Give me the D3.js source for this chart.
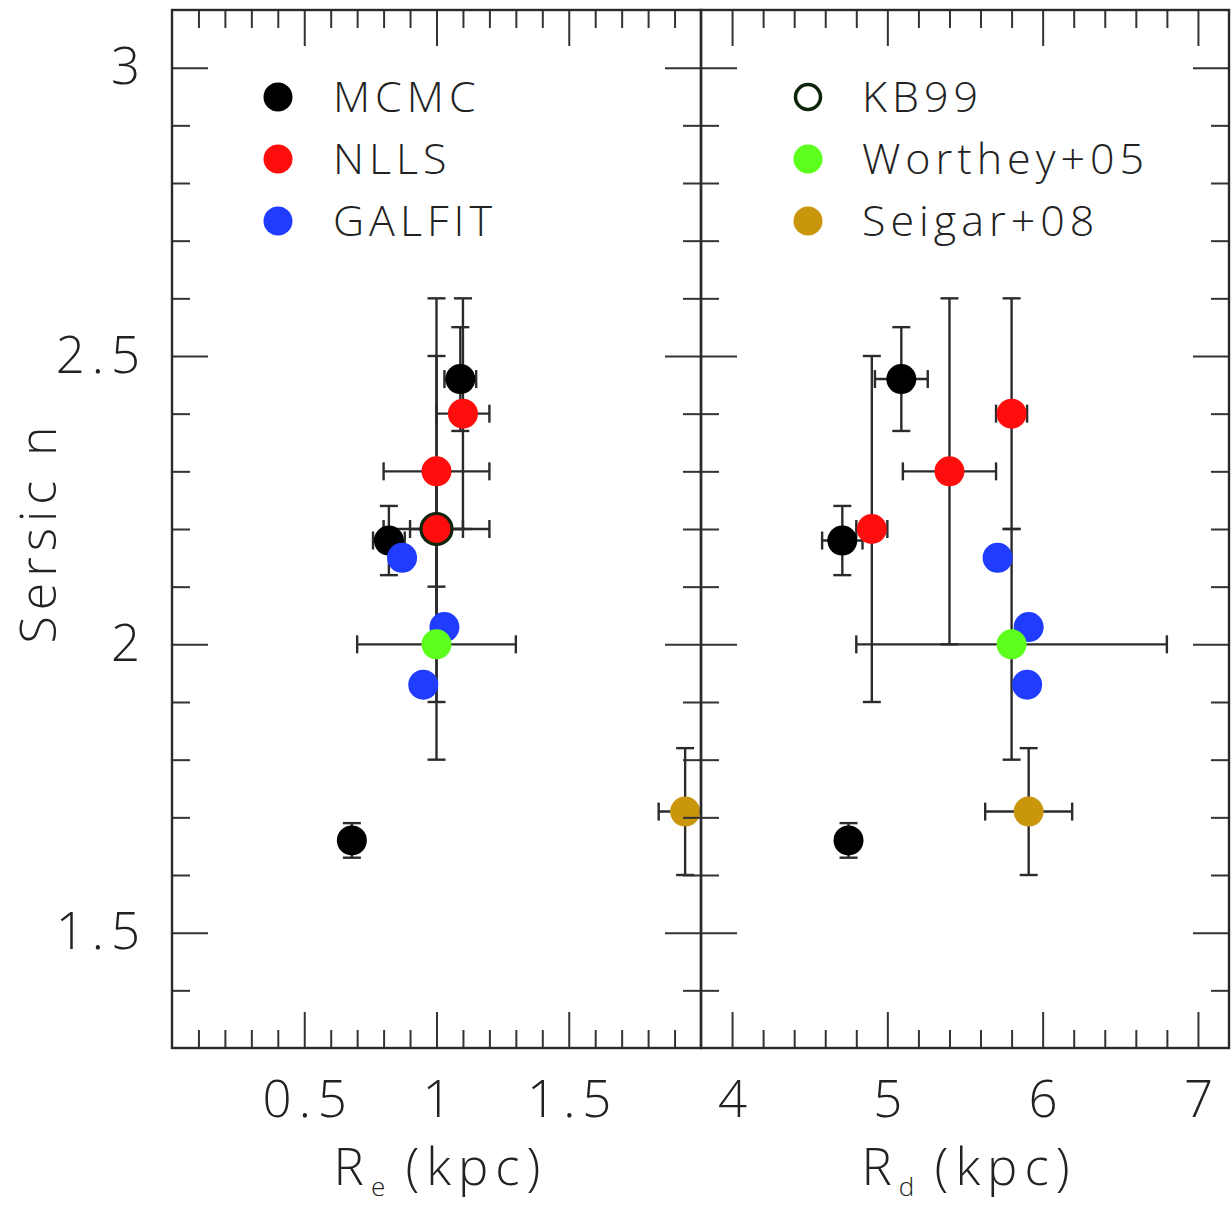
<!DOCTYPE html>
<html>
<head>
<meta charset="utf-8">
<script src="https://cdn.jsdelivr.net/npm/d3@7"></script>
<style>
  html, body { margin: 0; padding: 0; background: #fff; }
  svg { display: block; }
  text { font-family: "Open Sans", "DejaVu Sans", sans-serif; font-weight: 300; fill: #222; }
</style>
</head>
<body>
<svg id="chart" width="1231" height="1207"></svg>
<script>
// ---------------- DATA ----------------
const seriesNames = ["MCMC", "NLLS", "GALFIT", "KB99", "Worthey+05", "Seigar+08"];

const mcmcRe    = [1.09, 0.82, 0.68];
const mcmcReErr = [0.06, 0.06, 0.00];
const mcmcRd    = [5.09, 4.71, 4.75];
const mcmcRdErr = [0.17, 0.13, 0.00];
const mcmcN     = [2.46, 2.18, 1.66];
const mcmcNErr  = [0.09, 0.06, 0.03];

const nllsRe    = [1.10, 1.00, 1.00];
const nllsReErr = [0.10, 0.20, 0.10];
const nllsRd    = [5.80, 5.40, 4.90];
const nllsRdErr = [0.10, 0.30, 0.10];
const nllsN     = [2.40, 2.30, 2.20];
const nllsNErr  = [0.20, 0.30, 0.30];

const galfitRe  = [0.87, 1.03, 0.95];
const galfitRd  = [5.71, 5.91, 5.90];
const galfitN   = [2.15, 2.03, 1.93];

const kb99Re    = [1.00];
const kb99ReErr = [0.20];
const kb99N     = [2.20];
const kb99NErr  = [0.10];

const wortheyRe    = [1.00];
const wortheyReErr = [0.30];
const wortheyRd    = [5.80];
const wortheyRdErr = [1.00];
const wortheyN     = [2.00];
const wortheyNErr  = [0.20];

const seigarRe    = [1.94];
const seigarReErr = [0.10];
const seigarRd    = [5.91];
const seigarRdErr = [0.28];
const seigarN     = [1.71];
const seigarNErr  = [0.11];

const xTicksLeft  = [0.5, 1, 1.5];
const xTicksRight = [4, 5, 6, 7];
const yTicks      = [1.5, 2, 2.5, 3];

// ---------------- LAYOUT ----------------
const svg = d3.select("#chart");
const yTop = 10, yBot = 1048;
const L = {x0: 172, x1: 701};
const R = {x0: 701, x1: 1229};

const xL = d3.scaleLinear().domain([0, 2]).range([L.x0, L.x1]);
const xR = d3.scaleLinear().domain([3.8, 7.2]).range([R.x0, R.x1]);
const y  = d3.scaleLinear().domain([1.3, 3.1]).range([yBot, yTop]);

const colors = {
  "MCMC": "#000000", "NLLS": "#ff0d0d", "GALFIT": "#1f3cff",
  "KB99": "#0d240d", "Worthey+05": "#5dff1c", "Seigar+08": "#c9960c"
};

function zip(xs, xe, ns, ne) {
  return xs.map((v, i) => ({x: v, xe: xe ? xe[i] : 0, n: ns[i], ne: ne ? ne[i] : 0}));
}

const leftSeries = [
  {name: "MCMC", pts: zip(mcmcRe, mcmcReErr, mcmcN, mcmcNErr)},
  {name: "NLLS", pts: zip(nllsRe, nllsReErr, nllsN, nllsNErr)},
  {name: "GALFIT", pts: zip(galfitRe, null, galfitN, null)},
  {name: "Worthey+05", pts: zip(wortheyRe, wortheyReErr, wortheyN, wortheyNErr)},
  {name: "Seigar+08", pts: zip(seigarRe, seigarReErr, seigarN, seigarNErr)},
  {name: "KB99", pts: zip(kb99Re, kb99ReErr, kb99N, kb99NErr), open: true}
];
const rightSeries = [
  {name: "MCMC", pts: zip(mcmcRd, mcmcRdErr, mcmcN, mcmcNErr)},
  {name: "NLLS", pts: zip(nllsRd, nllsRdErr, nllsN, nllsNErr)},
  {name: "GALFIT", pts: zip(galfitRd, null, galfitN, null)},
  {name: "Worthey+05", pts: zip(wortheyRd, wortheyRdErr, wortheyN, wortheyNErr)},
  {name: "Seigar+08", pts: zip(seigarRd, seigarRdErr, seigarN, seigarNErr)}
];

const defs = svg.append("defs");
defs.append("clipPath").attr("id", "clipL").append("rect")
  .attr("x", L.x0).attr("y", yTop).attr("width", L.x1 - L.x0).attr("height", yBot - yTop);
defs.append("clipPath").attr("id", "clipR").append("rect")
  .attr("x", R.x0).attr("y", yTop).attr("width", R.x1 - R.x0).attr("height", yBot - yTop);

const CAP = 9, RAD = 15, EBW = 2.4, EBC = "#2b2b2b";

function drawPanel(series, x, clipId) {
  const g = svg.append("g").attr("clip-path", `url(#${clipId})`);
  series.forEach(s => {
    s.pts.forEach(p => {
      const cx = x(p.x), cy = y(p.n);
      if (p.xe > 0) {
        const xa = x(p.x - p.xe), xb = x(p.x + p.xe);
        g.append("line").attr("x1", xa).attr("x2", xb).attr("y1", cy).attr("y2", cy)
          .attr("stroke", EBC).attr("stroke-width", EBW);
        [xa, xb].forEach(xx => g.append("line").attr("x1", xx).attr("x2", xx)
          .attr("y1", cy - CAP).attr("y2", cy + CAP).attr("stroke", EBC).attr("stroke-width", EBW));
      }
      if (p.ne > 0) {
        const ya = y(p.n - p.ne), yb = y(p.n + p.ne);
        g.append("line").attr("x1", cx).attr("x2", cx).attr("y1", ya).attr("y2", yb)
          .attr("stroke", EBC).attr("stroke-width", EBW);
        [ya, yb].forEach(yy => g.append("line").attr("y1", yy).attr("y2", yy)
          .attr("x1", cx - CAP).attr("x2", cx + CAP).attr("stroke", EBC).attr("stroke-width", EBW));
      }
    });
  });
  series.forEach(s => {
    g.selectAll(null).data(s.pts).enter().append("circle")
      .attr("cx", d => x(d.x)).attr("cy", d => y(d.n)).attr("r", s.open ? 15.5 : RAD)
      .attr("fill", s.open ? "none" : colors[s.name])
      .attr("stroke", s.open ? colors[s.name] : "none")
      .attr("stroke-width", s.open ? 3.2 : 0);
  });
}

drawPanel(leftSeries, xL, "clipL");
drawPanel(rightSeries, xR, "clipR");

// ---------------- AXES ----------------
const MAJ = 36, MIN = 18, TW = 2, TC = "#333";
const TICK_FS = 51, TICK_LS = 7;
function styleAxis(g) {
  g.select(".domain").remove();
  g.selectAll(".tick line").attr("stroke", TC).attr("stroke-width", TW);
  g.selectAll(".tick text").style("font-family", "\"Open Sans\", \"DejaVu Sans\", sans-serif")
    .style("font-weight", 300).style("font-size", TICK_FS + "px")
    .style("letter-spacing", TICK_LS + "px").attr("fill", "#222");
}
function minorVals(lo, hi, step, majors) {
  const out = [];
  for (let k = Math.round(lo / step); k * step <= hi + 1e-9; k++) {
    const v = +(k * step).toFixed(6);
    if (v <= lo + 1e-9 || v >= hi - 1e-9) continue;
    if (majors.some(m => Math.abs(m - v) < 1e-6)) continue;
    out.push(v);
  }
  return out;
}
const yMinor = minorVals(1.3, 3.1, 0.1, yTicks);

function panelAxes(x, p, xMaj, xMinStep, labelY, labelX) {
  const [d0, d1] = x.domain();
  const xMin = minorVals(d0, d1, xMinStep, xMaj);
  const gb = svg.append("g").attr("transform", `translate(0,${yBot})`)
    .call(d3.axisBottom(x).tickValues(xMaj).tickSize(-MAJ).tickPadding(33)
      .tickFormat(labelX ? d => String(d) : "")).call(styleAxis);
  gb.selectAll(".tick text").attr("dx", TICK_LS / 2);
  svg.append("g").attr("transform", `translate(0,${yBot})`)
    .call(d3.axisBottom(x).tickValues(xMin).tickSize(-MIN).tickFormat("")).call(styleAxis);
  svg.append("g").attr("transform", `translate(0,${yTop})`)
    .call(d3.axisTop(x).tickValues(xMaj).tickSize(-MAJ).tickFormat("")).call(styleAxis);
  svg.append("g").attr("transform", `translate(0,${yTop})`)
    .call(d3.axisTop(x).tickValues(xMin).tickSize(-MIN).tickFormat("")).call(styleAxis);
  svg.append("g").attr("transform", `translate(${p.x0},0)`)
    .call(d3.axisLeft(y).tickValues(yTicks).tickSize(-MAJ).tickPadding(25)
      .tickFormat(labelY ? d => String(d) : "")).call(styleAxis);
  svg.append("g").attr("transform", `translate(${p.x0},0)`)
    .call(d3.axisLeft(y).tickValues(yMinor).tickSize(-MIN).tickFormat("")).call(styleAxis);
  svg.append("g").attr("transform", `translate(${p.x1},0)`)
    .call(d3.axisRight(y).tickValues(yTicks).tickSize(-MAJ).tickFormat("")).call(styleAxis);
  svg.append("g").attr("transform", `translate(${p.x1},0)`)
    .call(d3.axisRight(y).tickValues(yMinor).tickSize(-MIN).tickFormat("")).call(styleAxis);
  svg.append("rect").attr("x", p.x0).attr("y", yTop).attr("width", p.x1 - p.x0)
    .attr("height", yBot - yTop).attr("fill", "none").attr("stroke", "#2a2a2a").attr("stroke-width", 2.4);
}
panelAxes(xL, L, xTicksLeft, 0.1, true, true);
panelAxes(xR, R, xTicksRight, 0.2, false, true);

// ---------------- LEGENDS ----------------
function legend(names, mx, tx, y0, dy) {
  names.forEach((nm, i) => {
    const yy = y0 + i * dy;
    const open = nm === "KB99";
    svg.append("circle").attr("cx", mx).attr("cy", yy).attr("r", open ? 12.5 : 14.5)
      .attr("fill", open ? "none" : colors[nm]).attr("stroke", open ? colors[nm] : "none")
      .attr("stroke-width", open ? 3.5 : 0);
    svg.append("text").attr("x", tx).attr("y", yy).attr("dy", "0.36em")
      .style("font-size", "43px").style("letter-spacing", "5px").text(nm);
  });
}
legend(seriesNames.slice(0, 3), 278, 333, 97, 62);
legend(seriesNames.slice(3, 6), 808, 862, 97, 62);

// ---------------- AXIS TITLES ----------------
function xTitle(cx, sub) {
  const t = svg.append("text").attr("x", cx + 4).attr("y", 1185).attr("text-anchor", "middle")
    .style("font-size", "51px").style("letter-spacing", "7px");
  t.append("tspan").text("R");
  t.append("tspan").attr("dy", 11).style("font-size", "26px").style("letter-spacing", "0px").text(sub);
  t.append("tspan").attr("dy", -11).text("\u00a0(kpc)");
}
xTitle((L.x0 + L.x1) / 2, "e");
xTitle((R.x0 + R.x1) / 2, "d");

svg.append("text").attr("transform", `translate(56,${(yTop + yBot) / 2 + 3}) rotate(-90)`)
  .attr("text-anchor", "middle").style("font-size", "50px").style("letter-spacing", "6px")
  .text("Sersic n");
</script>
</body>
</html>
